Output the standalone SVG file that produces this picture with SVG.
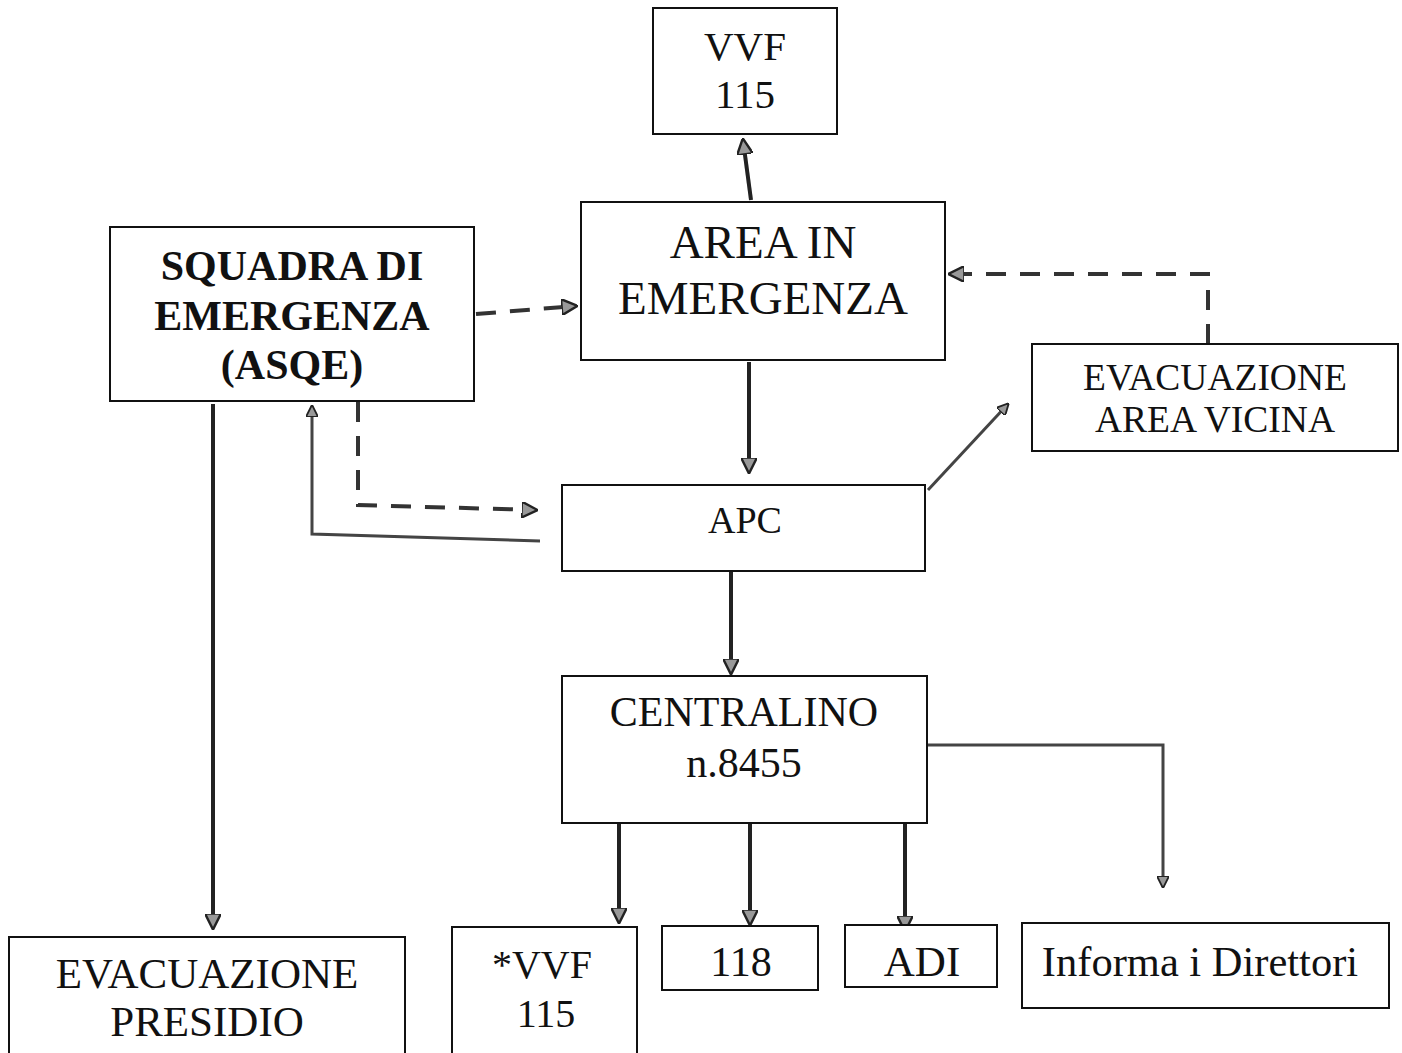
<svg xmlns="http://www.w3.org/2000/svg" width="1402" height="1053" viewBox="0 0 1402 1053">
<style>
.box{fill:#fff;stroke:#111;stroke-width:2}
.t{font-family:"Liberation Serif","Times New Roman",serif;fill:#111;text-anchor:middle}
.b{font-weight:bold}
.ln{fill:none;stroke:#222;stroke-width:4}
.th{fill:none;stroke:#444;stroke-width:3}
.ds{fill:none;stroke:#333;stroke-width:4;stroke-dasharray:20 14}
</style>
<defs>
<marker id="ah" viewBox="0 0 10 10" refX="9" refY="5" markerWidth="4" markerHeight="4" orient="auto" markerUnits="strokeWidth">
<path d="M0,0 L10,5 L0,10 Z" fill="#999" stroke="#222" stroke-width="1.5"/>
</marker>
</defs>
<rect width="1402" height="1053" fill="#fff"/>
<g id="connectors">
<path class="ln" d="M751,200 L743,140" marker-end="url(#ah)"/>
<path class="ds" d="M476,314 L576,306" marker-end="url(#ah)"/>
<path class="ds" d="M1208,344 L1208,274 L950,274" marker-end="url(#ah)"/>
<path class="ln" d="M749,362 L749,472" marker-end="url(#ah)"/>
<path class="ds" d="M358,402 L358,505 L536,510" marker-end="url(#ah)"/>
<path class="th" d="M540,541 L312,534 L312,406" marker-end="url(#ah)"/>
<path class="th" d="M928,490 L1008,404" marker-end="url(#ah)"/>
<path class="ln" d="M731,572 L731,673" marker-end="url(#ah)"/>
<path class="ln" d="M213,404 L213,928" marker-end="url(#ah)"/>
<path class="ln" d="M619,823 L619,922" marker-end="url(#ah)"/>
<path class="ln" d="M750,823 L750,924" marker-end="url(#ah)"/>
<path class="ln" d="M905,823 L905,930" marker-end="url(#ah)"/>
<path class="th" d="M928,745 L1163,745 L1163,887" marker-end="url(#ah)"/>
</g>
<g id="vvf-top"><rect class="box" x="653" y="8" width="184" height="126"/>
<text class="t" x="745" y="60" font-size="41">VVF</text><text class="t" x="745" y="108" font-size="41">115</text></g>
<g id="area"><rect class="box" x="581" y="202" width="364" height="158"/>
<text class="t" x="763" y="258" font-size="47">AREA IN</text><text class="t" x="763" y="314" font-size="47">EMERGENZA</text></g>
<g id="squadra"><rect class="box" x="110" y="227" width="364" height="174"/>
<text class="t b" x="292" y="280" font-size="42">SQUADRA DI</text><text class="t b" x="292" y="330" font-size="42">EMERGENZA</text><text class="t b" x="292" y="379" font-size="42">(ASQE)</text></g>
<g id="evac-area"><rect class="box" x="1032" y="344" width="366" height="107"/>
<text class="t" x="1215" y="390" font-size="37.5">EVACUAZIONE</text><text class="t" x="1215" y="432" font-size="37.5">AREA VICINA</text></g>
<g id="apc"><rect class="box" x="562" y="485" width="363" height="86"/>
<text class="t" x="745" y="533" font-size="38">APC</text></g>
<g id="centralino"><rect class="box" x="562" y="676" width="365" height="147"/>
<text class="t" x="744" y="726" font-size="42">CENTRALINO</text><text class="t" x="744" y="777" font-size="42">n.8455</text></g>
<g id="vvf-bottom"><rect class="box" x="452" y="927" width="185" height="130"/>
<text class="t" x="542" y="978" font-size="40">*VVF</text><text class="t" x="546" y="1027" font-size="40">115</text></g>
<g id="n118"><rect class="box" x="662" y="926" width="156" height="64"/>
<text class="t" x="741" y="976" font-size="42">118</text></g>
<g id="adi"><rect class="box" x="845" y="925" width="152" height="62"/>
<text class="t" x="922" y="976" font-size="43">ADI</text></g>
<g id="informa"><rect class="box" x="1022" y="923" width="367" height="85"/>
<text class="t" x="1200" y="976" font-size="42.5">Informa i Direttori</text></g>
<g id="evac-presidio"><rect class="box" x="9" y="937" width="396" height="120"/>
<text class="t" x="207" y="988" font-size="43">EVACUAZIONE</text><text class="t" x="207" y="1036" font-size="43">PRESIDIO</text></g>
</svg>
